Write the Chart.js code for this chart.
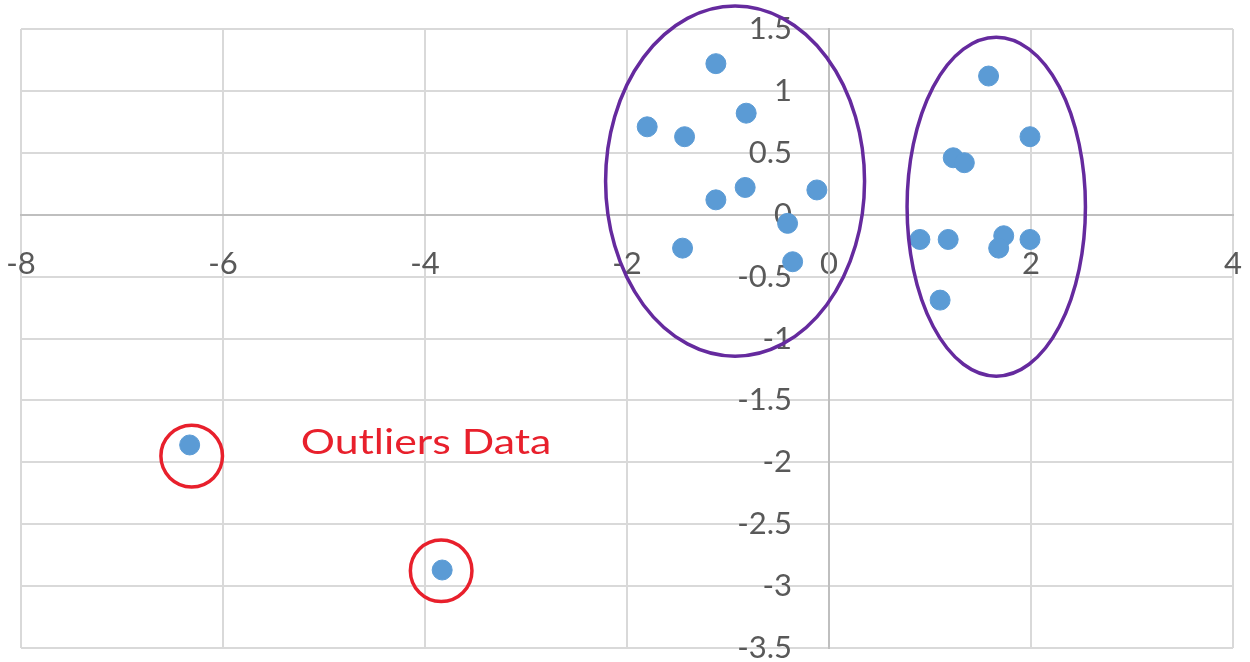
<!DOCTYPE html>
<html>
<head>
<meta charset="utf-8">
<script src="https://cdn.jsdelivr.net/npm/chart.js@4.4.1/dist/chart.umd.min.js"></script>
<style>
  html, body { margin: 0; padding: 0; background: #ffffff; }
  #wrap { width: 1250px; height: 662px; }
</style>
</head>
<body>
<div id="wrap"><canvas id="scatterChart"></canvas></div>
<script>
// Cluster near the origin (left ellipse)
const clusterAX = [-1.12, -0.82, -1.80, -1.43, -0.83, -1.12, -0.12, -0.41, -1.45, -0.36];
const clusterAY = [1.22, 0.82, 0.71, 0.63, 0.22, 0.12, 0.20, -0.07, -0.27, -0.38];

// Cluster on the right (right ellipse)
const clusterBX = [1.58, 1.99, 1.23, 1.34, 0.90, 1.18, 1.73, 1.68, 1.99, 1.10];
const clusterBY = [1.12, 0.63, 0.46, 0.42, -0.20, -0.20, -0.17, -0.27, -0.20, -0.69];

// Outliers
const outlierX = [-6.33, -3.83];
const outlierY = [-1.86, -2.87];

const xTicks = [-8, -6, -4, -2, 0, 2, 4];
const yTicks = [1.5, 1, 0.5, 0, -0.5, -1, -1.5, -2, -2.5, -3, -3.5];

// annotation shapes, in data units
const ellipseCx = [-0.93, 1.656];
const ellipseCy = [0.271, 0.065];
const ellipseRx = [1.282, 0.883];
const ellipseRy = [1.414, 1.369];

const ringCx = [-6.31, -3.84];
const ringCy = [-1.95, -2.876];
const ringR = [0.305, 0.305];   // in x units

const noteText = 'Outliers Data';
const noteX = -5.23;
const noteY = -1.93;
const noteWidth = 2.48;         // in x units

const allX = clusterAX.concat(clusterBX, outlierX);
const allY = clusterAY.concat(clusterBY, outlierY);
const points = allX.map((x, i) => ({ x: x, y: allY[i] }));

const annotations = {
    id: 'annotations',
    afterDatasetsDraw(chart) {
        const ctx = chart.ctx;
        const xs = chart.scales.x;
        const ys = chart.scales.y;
        const unitX = Math.abs(xs.getPixelForValue(1) - xs.getPixelForValue(0));
        const unitY = Math.abs(ys.getPixelForValue(1) - ys.getPixelForValue(0));
        ctx.save();

        // purple ellipses
        ctx.strokeStyle = '#652a9e';
        ctx.lineWidth = 3.5;
        ellipseCx.forEach((cx, i) => {
            ctx.beginPath();
            ctx.ellipse(xs.getPixelForValue(cx), ys.getPixelForValue(ellipseCy[i]),
                ellipseRx[i] * unitX, ellipseRy[i] * unitY, 0, 0, Math.PI * 2);
            ctx.stroke();
        });

        // red rings round the outliers
        ctx.strokeStyle = '#e8202c';
        ctx.lineWidth = 3.5;
        ringCx.forEach((cx, i) => {
            ctx.beginPath();
            ctx.arc(xs.getPixelForValue(cx), ys.getPixelForValue(ringCy[i]),
                ringR[i] * unitX, 0, Math.PI * 2);
            ctx.stroke();
        });

        // label
        ctx.fillStyle = '#e8202c';
        ctx.font = '35px Lato';
        ctx.textAlign = 'left';
        ctx.textBaseline = 'alphabetic';
        const w = ctx.measureText(noteText).width;
        ctx.translate(xs.getPixelForValue(noteX), ys.getPixelForValue(noteY));
        ctx.scale(noteWidth * unitX / w, 1);
        ctx.fillText(noteText, 0, 0);
        ctx.restore();
    }
};

const tickFont = { family: 'Lato', size: 31 };
// axes sit inside the plot, so no extra room is kept for their labels
const noPad = (s) => { s.paddingLeft = 0; s.paddingRight = 0; s.paddingTop = 0; s.paddingBottom = 0; };

new Chart(document.getElementById('scatterChart'), {
    type: 'scatter',
    data: {
        datasets: [{
            data: points,
            backgroundColor: '#5b9bd5',
            borderColor: '#5b9bd5',
            borderWidth: 1,
            pointRadius: 10,
            pointHoverRadius: 10
        }]
    },
    options: {
        responsive: true,
        maintainAspectRatio: false,
        animation: false,
        events: [],
        layout: { padding: { left: 21, right: 17, top: 29, bottom: 14 } },
        plugins: {
            legend: { display: false },
            tooltip: { enabled: false }
        },
        scales: {
            x: {
                type: 'linear',
                position: { y: 0 },
                min: -8,
                max: 4,
                afterBuildTicks: (s) => { s.ticks = xTicks.map(v => ({ value: v })); },
                afterFit: noPad,
                grid: { color: '#d9d9d9', lineWidth: 2, drawTicks: false },
                border: { color: '#bfbfbf', width: 2 },
                ticks: {
                    font: tickFont,
                    color: '#595959',
                    padding: 31,
                    autoSkip: false,
                    maxRotation: 0,
                    callback: (v) => String(v)
                }
            },
            y: {
                type: 'linear',
                position: { x: 0 },
                min: -3.5,
                max: 1.5,
                afterBuildTicks: (s) => { s.ticks = yTicks.map(v => ({ value: v })); },
                afterFit: noPad,
                grid: { color: '#d9d9d9', lineWidth: 2, drawTicks: false },
                border: { color: '#bfbfbf', width: 2 },
                ticks: { display: false }
            },
            // labels of the vertical axis, set a little left of x = 0
            yLabels: {
                type: 'linear',
                axis: 'y',
                position: { x: -0.366 },
                min: -3.5,
                max: 1.5,
                afterBuildTicks: (s) => { s.ticks = yTicks.map(v => ({ value: v })); },
                afterFit: noPad,
                grid: { display: false, drawTicks: false },
                border: { display: false },
                ticks: {
                    font: tickFont,
                    color: '#595959',
                    autoSkip: false,
                    callback: (v) => String(v)
                }
            }
        }
    },
    plugins: [annotations]
});
</script>
</body>
</html>
